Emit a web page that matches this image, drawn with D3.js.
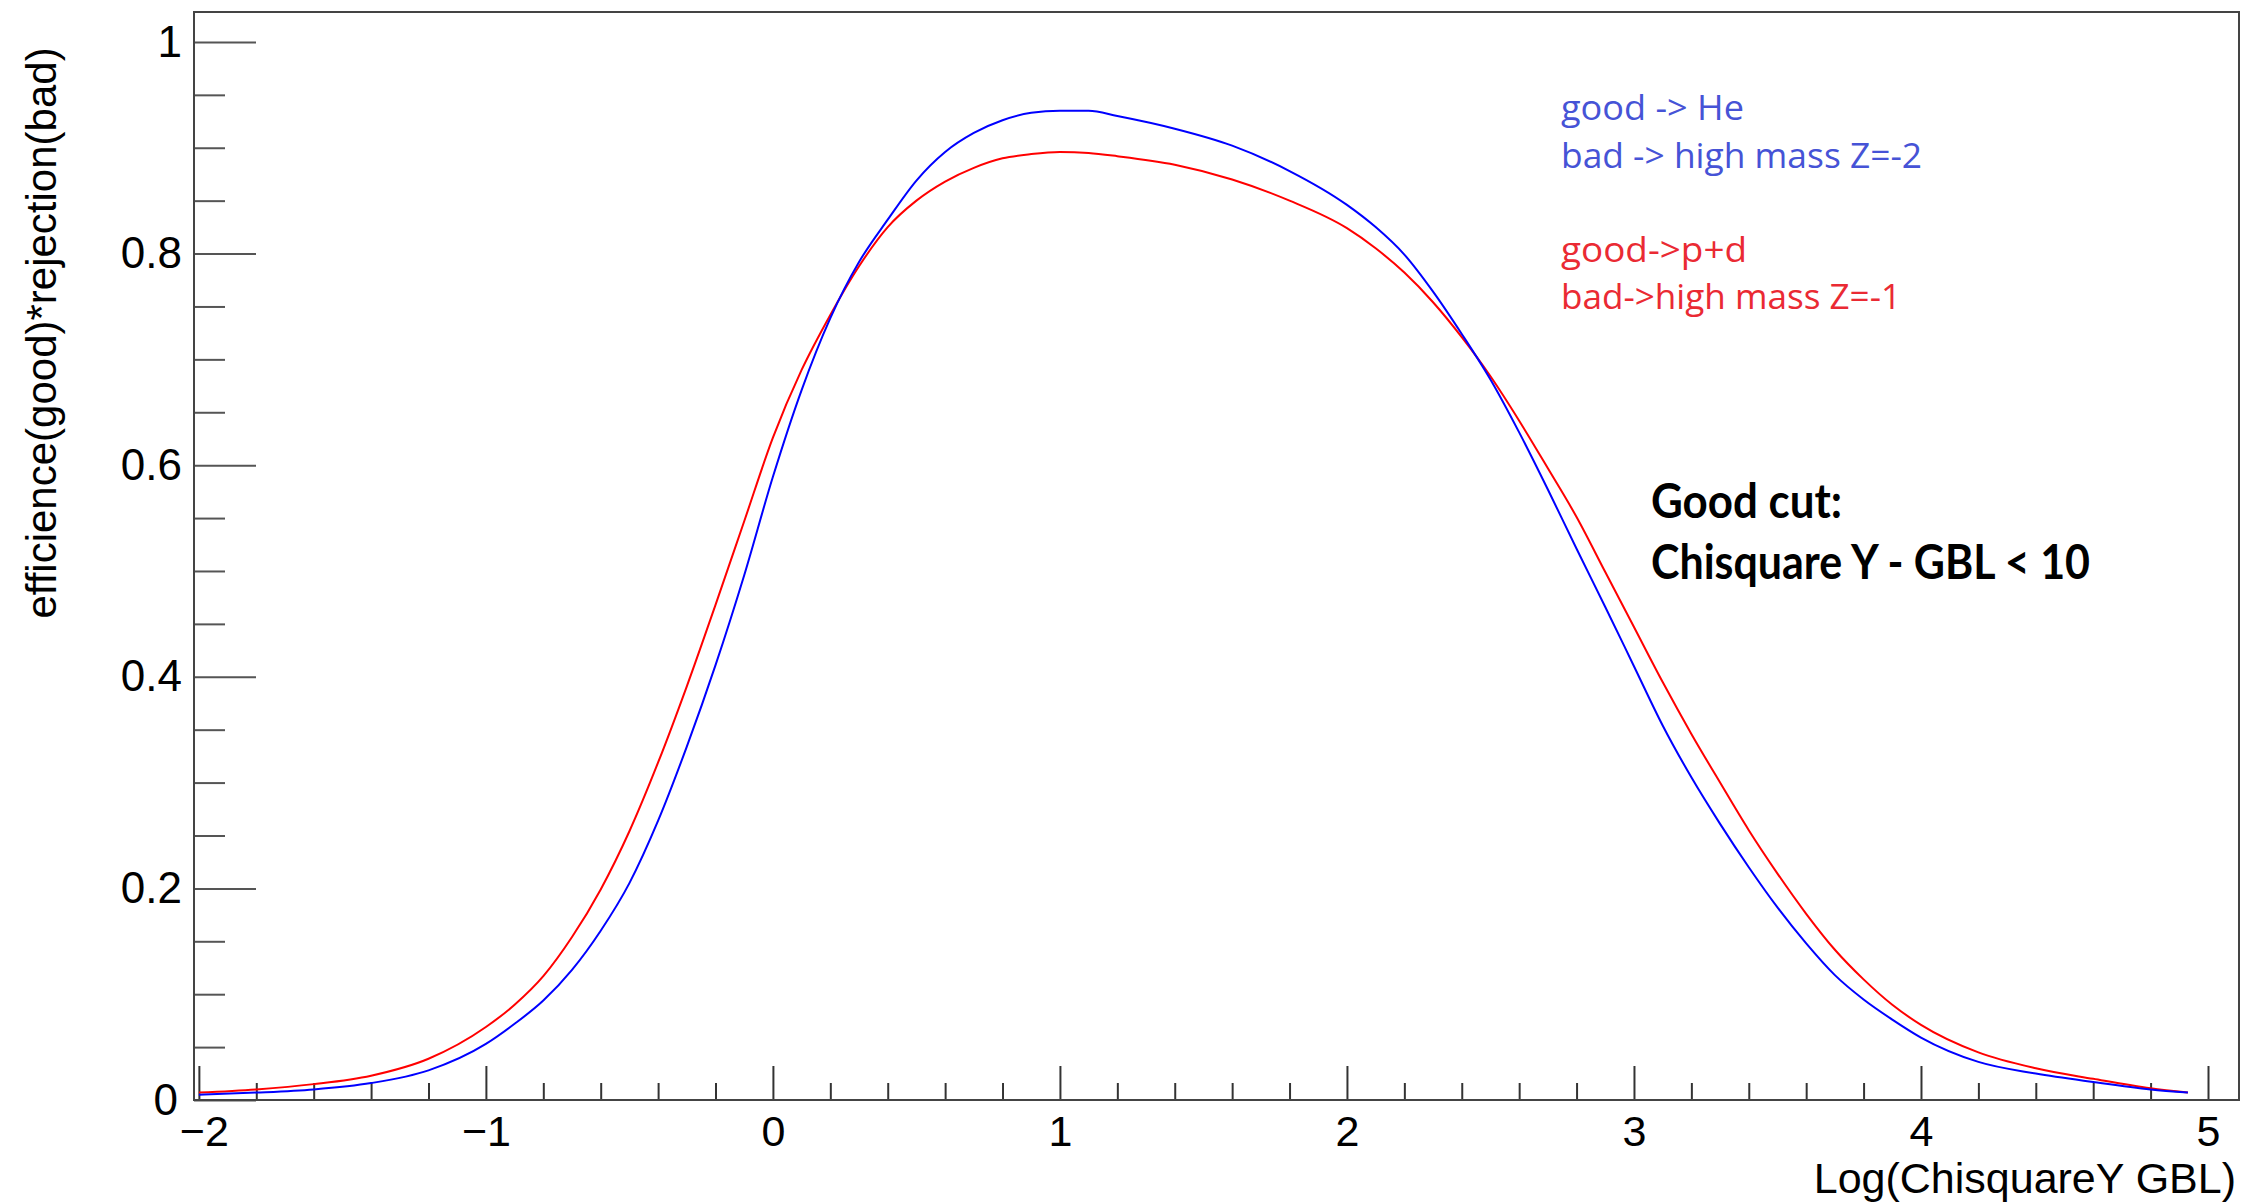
<!DOCTYPE html>
<html>
<head>
<meta charset="utf-8">
<script src="https://cdn.jsdelivr.net/npm/d3@7"></script>
<style>
  html, body { margin: 0; padding: 0; background: #ffffff; }
  svg { display: block; }
</style>
</head>
<body>
<svg id="chart" width="2243" height="1202"></svg>
<script>
// Log(ChisquareY GBL) sample points
const logChi = [-2.0, -1.8, -1.6, -1.4, -1.2, -1.0, -0.9, -0.8, -0.7, -0.6, -0.5, -0.4, -0.3, -0.2, -0.1,
  0.0, 0.1, 0.2, 0.3, 0.4, 0.5, 0.6, 0.7, 0.8, 0.9, 1.0, 1.1, 1.2, 1.4, 1.6, 1.8, 2.0, 2.1, 2.2, 2.3,
  2.4, 2.5, 2.6, 2.7, 2.8, 2.9, 3.0, 3.1, 3.2, 3.3, 3.4, 3.5, 3.6, 3.7, 3.8, 3.9, 4.0, 4.2, 4.4, 4.6,
  4.8, 4.93];

// efficiency(good)*rejection(bad): good -> He, bad -> high mass Z=-2
const heEff = [0.005, 0.007, 0.010, 0.016, 0.028, 0.053, 0.072, 0.094, 0.123, 0.160, 0.205, 0.264, 0.334, 0.411, 0.496,
  0.589, 0.671, 0.739, 0.792, 0.832, 0.869, 0.896, 0.914, 0.926, 0.933, 0.935, 0.935, 0.930, 0.918, 0.902, 0.878, 0.846, 0.825, 0.799, 0.764,
  0.724, 0.681, 0.631, 0.577, 0.521, 0.466, 0.410, 0.354, 0.305, 0.261, 0.220, 0.182, 0.148, 0.118, 0.095, 0.076, 0.059, 0.036, 0.025, 0.017,
  0.010, 0.007];

// efficiency(good)*rejection(bad): good -> p+d, bad -> high mass Z=-1
const pdEff = [0.007, 0.010, 0.015, 0.023, 0.039, 0.069, 0.090, 0.117, 0.154, 0.199, 0.254, 0.319, 0.391, 0.468, 0.547,
  0.626, 0.690, 0.742, 0.788, 0.825, 0.850, 0.868, 0.881, 0.890, 0.894, 0.896, 0.895, 0.892, 0.884, 0.870, 0.850, 0.824, 0.805, 0.782, 0.754,
  0.721, 0.684, 0.642, 0.597, 0.551, 0.499, 0.447, 0.395, 0.346, 0.300, 0.255, 0.214, 0.176, 0.142, 0.114, 0.090, 0.071, 0.045, 0.030, 0.020,
  0.011, 0.007];

const xTicks = [-2, -1, 0, 1, 2, 3, 4, 5];
const xTickLabels = ["\u22122", "\u22121", "0", "1", "2", "3", "4", "5"];
const yTicks = [0, 0.2, 0.4, 0.6, 0.8, 1];
const yTickLabels = ["0", "0.2", "0.4", "0.6", "0.8", "1"];

const xTitle = "Log(ChisquareY GBL)";
const yTitle = "efficience(good)*rejection(bad)";
const heNote = ["good -> He", "bad -> high mass Z=-2"];
const pdNote = ["good->p+d", "bad->high mass Z=-1"];
const cutNote = ["Good cut:", "Chisquare Y - GBL < 10"];

// ---- layout ----
const frame = { left: 194, right: 2239, top: 12, bottom: 1100 };
const rootFont = "'Liberation Sans', Arial, Helvetica, sans-serif";

const svg = d3.select("#chart");
svg.append("rect").attr("width", 2243).attr("height", 1202).attr("fill", "#ffffff");

const x = d3.scaleLinear().domain([-2.017, 5.108]).range([frame.left, frame.right]);
const y = d3.scaleLinear().domain([0, 1.0283]).range([frame.bottom, frame.top]);

// ---- x axis: major + minor ticks pointing into the frame ----
const xMinor = d3.range(-2, 5.001, 0.2).filter(v => Math.abs(v - Math.round(v)) > 1e-6);
svg.append("g")
  .attr("transform", `translate(0,${frame.bottom})`)
  .call(d3.axisBottom(x).tickValues(xMinor).tickSize(-17).tickFormat(""))
  .call(g => g.select(".domain").remove())
  .call(g => g.selectAll("line").attr("stroke", "#333").attr("stroke-width", 2));

svg.append("g")
  .attr("transform", `translate(0,${frame.bottom})`)
  .call(d3.axisBottom(x).tickValues(xTicks).tickSize(-34).tickPadding(15)
    .tickFormat((d, i) => xTickLabels[i]))
  .call(g => g.select(".domain").remove())
  .call(g => g.selectAll("line").attr("stroke", "#333").attr("stroke-width", 2))
  .call(g => g.selectAll("text").attr("font-family", rootFont).attr("font-size", 43).attr("fill", "#000")
    .attr("dx", d => d === -2 ? 5 : 0));

// ---- y axis ----
const yMinor = d3.range(0, 1.0001, 0.05).filter(v => Math.abs(v * 5 - Math.round(v * 5)) > 1e-6);
svg.append("g")
  .attr("transform", `translate(${frame.left},0)`)
  .call(d3.axisLeft(y).tickValues(yMinor).tickSize(-31).tickFormat(""))
  .call(g => g.select(".domain").remove())
  .call(g => g.selectAll("line").attr("stroke", "#555").attr("stroke-width", 2));

svg.append("g")
  .attr("transform", `translate(${frame.left},0)`)
  .call(d3.axisLeft(y).tickValues(yTicks).tickSize(-62).tickPadding(12)
    .tickFormat((d, i) => yTickLabels[i]))
  .call(g => g.select(".domain").remove())
  .call(g => g.selectAll("line").attr("stroke", "#555").attr("stroke-width", 2))
  .call(g => g.selectAll("text").attr("font-family", rootFont).attr("font-size", 44).attr("fill", "#000")
    .attr("dx", d => d === 0 ? -4 : 0));

// ---- frame box ----
svg.append("rect")
  .attr("x", frame.left).attr("y", frame.top)
  .attr("width", frame.right - frame.left).attr("height", frame.bottom - frame.top)
  .attr("fill", "none").attr("stroke", "#444").attr("stroke-width", 2);

// ---- curves ----
const line = d3.line().x(d => x(d[0])).y(d => y(d[1])).curve(d3.curveMonotoneX);
const curves = [
  { values: pdEff, color: "#ff0000" },
  { values: heEff, color: "#0000ff" }
];
svg.append("g").selectAll("path")
  .data(curves)
  .join("path")
  .attr("d", c => line(logChi.map((v, i) => [v, c.values[i]])))
  .attr("fill", "none")
  .attr("stroke", c => c.color)
  .attr("stroke-width", 2)
  .attr("stroke-linejoin", "round");

// ---- axis titles ----
svg.append("text")
  .attr("x", 2236).attr("y", 1193)
  .attr("text-anchor", "end")
  .attr("font-family", rootFont).attr("font-size", 43)
  .text(xTitle);

svg.append("text")
  .attr("transform", "translate(56,333) rotate(-90)")
  .attr("text-anchor", "middle")
  .attr("font-family", rootFont).attr("font-size", 42)
  .text(yTitle);

// ---- annotations ----
function note(lines, opts) {
  const g = svg.append("g");
  lines.forEach((t, i) => {
    g.append("text")
      .attr("x", opts.x).attr("y", opts.baselines[i])
      .attr("font-family", opts.font).attr("font-size", opts.size)
      .attr("font-weight", opts.weight || 400)
      .attr("fill", opts.color)
      .attr("textLength", opts.widths[i]).attr("lengthAdjust", "spacingAndGlyphs")
      .text(t);
  });
}

note(heNote, { x: 1561, baselines: [120, 168], widths: [183, 361], size: 35,
  font: "'Open Sans', 'Noto Sans', sans-serif", color: "#4653d6" });
note(pdNote, { x: 1561, baselines: [262, 309], widths: [186, 340], size: 35,
  font: "'Open Sans', 'Noto Sans', sans-serif", color: "#ea2a33" });
note(cutNote, { x: 1651, baselines: [518, 579], widths: [191, 439], size: 47, weight: 700,
  font: "Lato, 'Open Sans', sans-serif", color: "#000000" });
</script>
</body>
</html>
